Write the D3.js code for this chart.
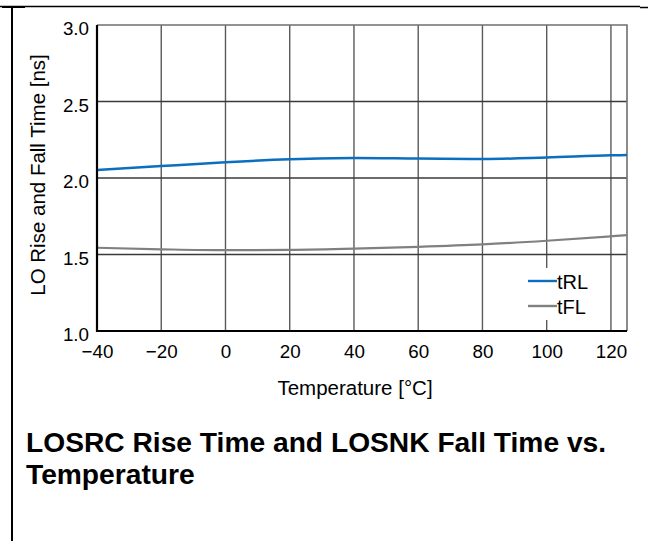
<!DOCTYPE html>
<html>
<head>
<meta charset="utf-8">
<script src="https://cdn.jsdelivr.net/npm/d3@7/dist/d3.min.js"></script>
<style>
  html, body { margin: 0; padding: 0; background: #fff; }
  svg { display: block; font-family: "Liberation Sans", Arial, Helvetica, sans-serif; }
</style>
</head>
<body>
<svg id="chart" width="648" height="541"></svg>
<script>
// Temperature sweep points [°C]
const temps = [-40, -20, 0, 20, 40, 60, 80, 100, 120, 125];
// LOSRC rise time [ns]
const tRL = [2.052, 2.078, 2.103, 2.122, 2.131, 2.127, 2.124, 2.134, 2.148, 2.150];
// LOSNK fall time [ns]
const tFL = [1.544, 1.534, 1.528, 1.530, 1.538, 1.550, 1.566, 1.590, 1.619, 1.627];

const xTicks = [-40, -20, 0, 20, 40, 60, 80, 100, 120];
const yTicks = [1.0, 1.5, 2.0, 2.5, 3.0];
const seriesNames = ["tRL", "tFL"];
const seriesColors = ["#0b6fc0", "#808080"];

const svg = d3.select("#chart");
const plot = { left: 97, right: 627, top: 25, bottom: 331 };

const x = d3.scaleLinear().domain([-40, 125]).range([plot.left, plot.right]);
const y = d3.scaleLinear().domain([1.0, 3.0]).range([plot.bottom, plot.top]);

// page frame (table cell borders)
svg.append("line").attr("x1", 0).attr("x2", 640).attr("y1", 6.5).attr("y2", 6.5)
  .attr("stroke", "#000").attr("stroke-width", 1.5);
svg.append("line").attr("x1", 640).attr("x2", 648).attr("y1", 7.5).attr("y2", 7.5)
  .attr("stroke", "#000").attr("stroke-width", 1.5);
svg.append("line").attr("x1", 2).attr("x2", 25).attr("y1", 7).attr("y2", 7)
  .attr("stroke", "#000").attr("stroke-width", 2);
svg.append("line").attr("x1", 12).attr("x2", 12).attr("y1", 6).attr("y2", 541)
  .attr("stroke", "#000").attr("stroke-width", 2);

// grid
const grid = svg.append("g");
grid.selectAll("line.v").data(xTicks.slice(1)).join("line")
  .attr("x1", d => x(d)).attr("x2", d => x(d))
  .attr("y1", plot.top).attr("y2", plot.bottom)
  .attr("stroke", "#5a5a5a").attr("stroke-width", 1.4);
grid.selectAll("line.h").data(yTicks.slice(1, -1)).join("line")
  .attr("x1", plot.left).attr("x2", plot.right)
  .attr("y1", d => y(d)).attr("y2", d => y(d))
  .attr("stroke", "#3a3a3a").attr("stroke-width", 1.4);

// top and right border
svg.append("path")
  .attr("d", `M${plot.left},${plot.top}H${plot.right}V${plot.bottom}`)
  .attr("fill", "none").attr("stroke", "#707070").attr("stroke-width", 1.6);

// curves
const line = d3.line().x((d, i) => x(temps[i])).y(d => y(d)).curve(d3.curveMonotoneX);
svg.append("path").datum(tFL).attr("d", line)
  .attr("fill", "none").attr("stroke", seriesColors[1]).attr("stroke-width", 2.2);
svg.append("path").datum(tRL).attr("d", line)
  .attr("fill", "none").attr("stroke", seriesColors[0]).attr("stroke-width", 2.5);

// axes
const xAxis = d3.axisBottom(x).tickValues(xTicks).tickSize(0).tickPadding(0)
  .tickFormat(d => d < 0 ? "\u2212" + Math.abs(d) : String(d));
const gx = svg.append("g").attr("transform", `translate(0,${plot.bottom})`).call(xAxis);
gx.select(".domain").remove();
gx.selectAll("text").attr("font-size", 18.8).attr("fill", "#000")
  .attr("dy", null).attr("y", 27).attr("font-family", "Liberation Sans, Arial, sans-serif");

const yAxis = d3.axisLeft(y).tickValues(yTicks).tickSize(0).tickPadding(8)
  .tickFormat(d3.format(".1f"));
const gy = svg.append("g").attr("transform", `translate(${plot.left},0)`).call(yAxis);
gy.select(".domain").remove();
gy.selectAll("text").attr("font-size", 18.8).attr("fill", "#000")
  .attr("dy", null).attr("y", 9.5).attr("font-family", "Liberation Sans, Arial, sans-serif");

// left and bottom axis lines
svg.append("path")
  .attr("d", `M${plot.left},${plot.top}V${plot.bottom}H${plot.right}`)
  .attr("fill", "none").attr("stroke", "#000").attr("stroke-width", 2.2);

// legend
const lg = svg.append("g");
lg.append("rect").attr("x", 519).attr("y", 268).attr("width", 78).attr("height", 52).attr("fill", "#fff");
seriesNames.forEach((name, i) => {
  const yy = 281 + i * 25;
  lg.append("line").attr("x1", 528).attr("x2", 557).attr("y1", yy).attr("y2", yy)
    .attr("stroke", seriesColors[i]).attr("stroke-width", 2.4);
  lg.append("text").attr("x", 557).attr("y", yy + 7.5).attr("font-size", 20)
    .attr("fill", "#000").text(name);
});

// axis titles
svg.append("text").attr("x", 355).attr("y", 395).attr("text-anchor", "middle")
  .attr("font-size", 20.5).attr("fill", "#000").text("Temperature [°C]");
svg.append("text").attr("transform", "translate(45,175) rotate(-90)")
  .attr("text-anchor", "middle").attr("font-size", 20.5).attr("fill", "#000")
  .text("LO Rise and Fall Time [ns]");

// caption
const cap = svg.append("text").attr("x", 26).attr("font-size", 28.2)
  .attr("font-weight", "bold").attr("fill", "#000");
cap.append("tspan").attr("x", 26).attr("y", 452).text("LOSRC Rise Time and LOSNK Fall Time vs.");
cap.append("tspan").attr("x", 26).attr("y", 484).text("Temperature");
</script>
</body>
</html>
